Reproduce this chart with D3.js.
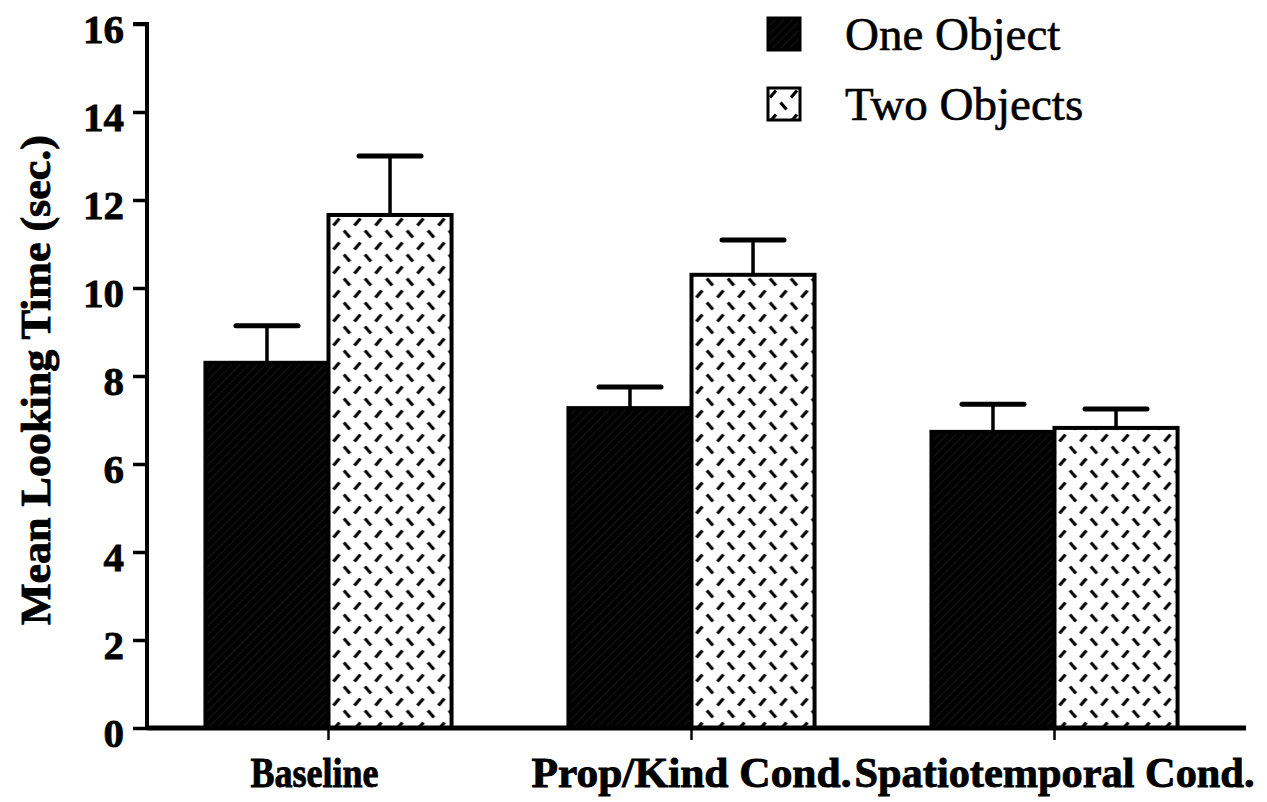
<!DOCTYPE html>
<html>
<head>
<meta charset="utf-8">
<script src="https://cdn.jsdelivr.net/npm/d3@7/dist/d3.min.js"></script>
<style>
  body { margin: 0; background: #fff; }
  svg { display: block; }
  text { font-family: 'Liberation Serif', 'Times New Roman', serif; fill: #000; }
</style>
</head>
<body>
<svg id="chart" width="1267" height="802"></svg>
<script>
const categories = ['Baseline', 'Prop/Kind Cond.', 'Spatiotemporal Cond.'];
const seriesNames = ['One Object', 'Two Objects'];
const oneObject = [8.3, 7.27, 6.73];
const twoObjects = [11.66, 10.3, 6.82];
const oneObjectErr = [0.84, 0.48, 0.63];   // upper error bar length
const twoObjectsErr = [1.34, 0.79, 0.43];
const yTicks = [0, 2, 4, 6, 8, 10, 12, 14, 16];

const svg = d3.select('#chart');
const defs = svg.append('defs');

// dark hatch for "One Object"
const hatch = defs.append('pattern')
  .attr('id', 'hatchOne')
  .attr('width', 6).attr('height', 6)
  .attr('patternUnits', 'userSpaceOnUse')
  .attr('patternTransform', 'rotate(45)');
hatch.append('rect').attr('width', 6).attr('height', 6).attr('fill', '#000');
hatch.append('line')
  .attr('x1', 0).attr('y1', 0).attr('x2', 0).attr('y2', 6)
  .attr('stroke', '#2e2e2e').attr('stroke-width', 1);

// dashed "diamond plate" for "Two Objects"
const dash = defs.append('pattern')
  .attr('id', 'dashTwo')
  .attr('width', 21).attr('height', 24)
  .attr('patternUnits', 'userSpaceOnUse');
dash.append('rect').attr('width', 21).attr('height', 24).attr('fill', '#fff');
dash.append('line')
  .attr('x1', 2).attr('y1', 9.5).attr('x2', 8).attr('y2', 2.5)
  .attr('stroke', '#000').attr('stroke-width', 3.2);
dash.append('line')
  .attr('x1', 12.5).attr('y1', 14.5).attr('x2', 18.5).attr('y2', 21.5)
  .attr('stroke', '#000').attr('stroke-width', 3.2);

const fills = ['url(#hatchOne)', 'url(#dashTwo)'];

const y = d3.scaleLinear().domain([0, 16]).range([728, 24]);

const x0 = d3.scaleBand()
  .domain(categories)
  .range([147, 1236])
  .paddingInner(0.322)
  .paddingOuter(0.161);

const x1 = d3.scaleBand()
  .domain(seriesNames)
  .range([0, x0.bandwidth()]);

const rows = categories.map((c, i) => ({
  cat: c,
  vals: [
    { s: seriesNames[0], v: oneObject[i], e: oneObjectErr[i] },
    { s: seriesNames[1], v: twoObjects[i], e: twoObjectsErr[i] }
  ]
}));

const groups = svg.append('g').selectAll('g')
  .data(rows)
  .join('g')
  .attr('transform', d => `translate(${x0(d.cat)},0)`);

// error bars first, so the bar outline sits over the stem
groups.selectAll('.err')
  .data(d => d.vals)
  .join('g')
  .attr('class', 'err')
  .each(function (d) {
    const g = d3.select(this);
    const cx = x1(d.s) + x1.bandwidth() / 2;
    g.append('line')
      .attr('x1', cx).attr('x2', cx)
      .attr('y1', y(d.v)).attr('y2', y(d.v + d.e))
      .attr('stroke', '#000').attr('stroke-width', 3.5);
    g.append('line')
      .attr('x1', cx - 31).attr('x2', cx + 31)
      .attr('y1', y(d.v + d.e)).attr('y2', y(d.v + d.e))
      .attr('stroke', '#000').attr('stroke-width', 5)
      .attr('stroke-linecap', 'round');
  });

groups.selectAll('rect')
  .data(d => d.vals)
  .join('rect')
  .attr('x', d => x1(d.s))
  .attr('y', d => y(d.v))
  .attr('width', x1.bandwidth())
  .attr('height', d => y(0) - y(d.v))
  .attr('fill', (d, i) => fills[i])
  .attr('stroke', '#000')
  .attr('stroke-width', 4);

// y axis
const yAxis = svg.append('g')
  .attr('transform', 'translate(147,0)')
  .call(d3.axisLeft(y).tickValues(yTicks).tickSize(14).tickPadding(9));
yAxis.select('.domain').attr('stroke-width', 4).attr('d', `M-14,${y(16)}H0V${y(0)}`);
yAxis.selectAll('.tick line').attr('stroke-width', 3.5);
yAxis.selectAll('.tick text')
  .attr('dy', '0.45em')
  .style('font-family', "'Liberation Serif', serif")
  .style('font-weight', 'bold')
  .style('font-size', '41px')
  .style('stroke', '#000')
  .style('stroke-width', '0.8px');

// x axis
const xAxis = svg.append('g')
  .attr('transform', `translate(0,${y(0)})`)
  .call(d3.axisBottom(x0).tickSize(12).tickFormat(''));
xAxis.select('.domain').attr('d', `M147,0H1246`).attr('stroke-width', 5);
xAxis.selectAll('.tick line').attr('stroke-width', 2.5);

svg.append('g').selectAll('text')
  .data(categories)
  .join('text')
  .attr('x', d => x0(d) + x0.bandwidth() / 2 - (d === 'Baseline' ? 14 : 0))
  .attr('y', 787)
  .attr('text-anchor', 'middle')
  .style('font-weight', 'bold')
  .style('font-size', '43px')
  .style('stroke', '#000')
  .style('stroke-width', '0.9px')
  .attr('textLength', d => ({ 'Baseline': 128, 'Prop/Kind Cond.': 320, 'Spatiotemporal Cond.': 400 })[d])
  .attr('lengthAdjust', 'spacingAndGlyphs')
  .text(d => d);

// y title
svg.append('text')
  .attr('transform', 'translate(50,380) rotate(-90)')
  .attr('text-anchor', 'middle')
  .style('font-weight', 'bold')
  .style('font-size', '43px')
  .style('stroke', '#000')
  .style('stroke-width', '0.9px')
  .attr('textLength', 490)
  .attr('lengthAdjust', 'spacingAndGlyphs')
  .text('Mean Looking Time (sec.)');

// legend
const legend = svg.append('g').selectAll('g')
  .data(seriesNames)
  .join('g')
  .attr('transform', (d, i) => `translate(768,${18 + i * 70})`);
legend.append('rect')
  .attr('width', 32).attr('height', 32)
  .attr('fill', (d, i) => fills[i])
  .attr('stroke', '#000').attr('stroke-width', 3);
legend.append('text')
  .attr('x', 77).attr('y', 32)
  .style('font-size', '47px')
  .style('stroke', '#000')
  .style('stroke-width', '0.6px')
  .text(d => d);
</script>
</body>
</html>
